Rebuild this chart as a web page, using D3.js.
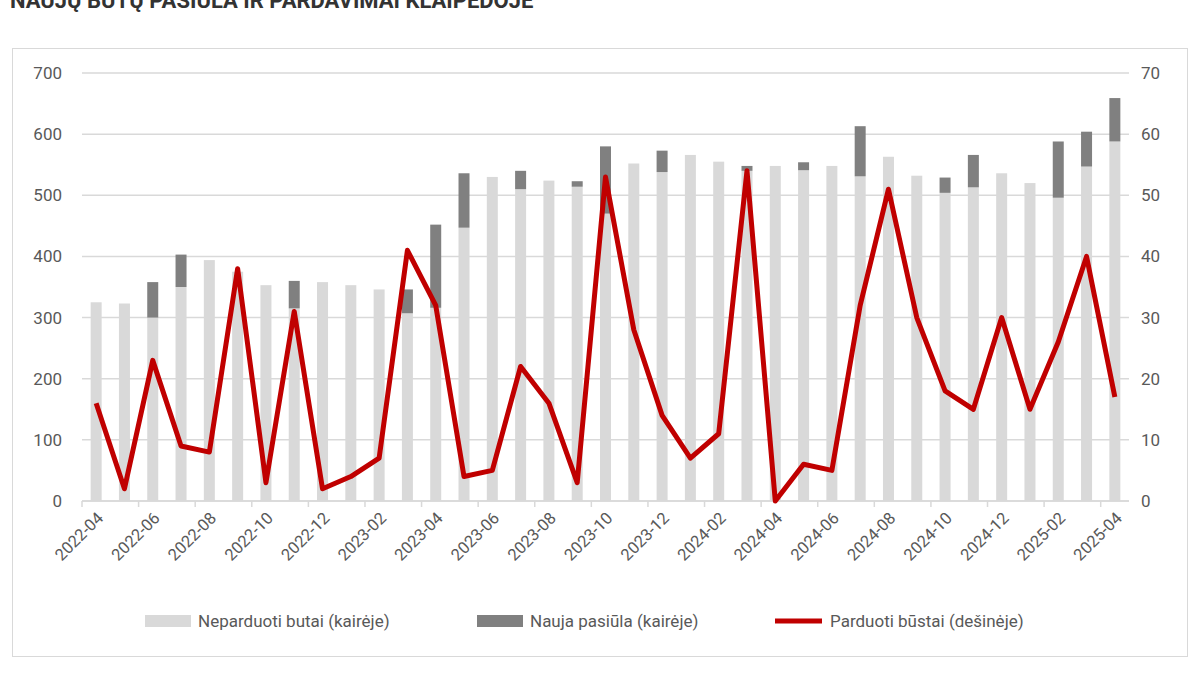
<!DOCTYPE html>
<html>
<head>
<meta charset="utf-8">
<script src="https://cdn.jsdelivr.net/npm/d3@7"></script>
<style>
  body { margin: 0; background: #fff; font-family: Roboto, "DejaVu Sans", sans-serif; }
</style>
</head>
<body>
<div id="chart"></div>
<script>
// data
const months = ["2022-04","2022-05","2022-06","2022-07","2022-08","2022-09","2022-10","2022-11","2022-12",
  "2023-01","2023-02","2023-03","2023-04","2023-05","2023-06","2023-07","2023-08","2023-09","2023-10","2023-11","2023-12",
  "2024-01","2024-02","2024-03","2024-04","2024-05","2024-06","2024-07","2024-08","2024-09","2024-10","2024-11","2024-12",
  "2025-01","2025-02","2025-03","2025-04"];
const unsold = [325,323,300,350,394,375,353,315,358,353,346,307,316,447,530,510,524,514,470,552,538,
  566,555,540,548,541,548,531,563,532,504,513,536,520,496,547,588];
const newSupply = [0,0,58,53,0,0,0,45,0,0,0,39,136,89,0,30,0,9,110,0,35,
  0,0,8,0,13,0,82,0,0,25,53,0,0,92,57,71];
const sold = [16,2,23,9,8,38,3,31,2,4,7,41,32,4,5,22,16,3,53,28,14,
  7,11,54,0,6,5,32,51,30,18,15,30,15,26,40,17];
const leftTicks = [0,100,200,300,400,500,600,700];
const rightTicks = [0,10,20,30,40,50,60,70];

const W = 1200, H = 675;
const margin = {top: 73, right: 71, bottom: 174, left: 82};
const width = W - margin.left - margin.right;
const height = H - margin.top - margin.bottom;

const svg = d3.select("#chart").append("svg").attr("width", W).attr("height", H);

svg.append("text").attr("x", 10).attr("y", 8)
  .style("font-size", "22px").style("font-weight", "bold").style("fill", "#333")
  .text("NAUJŲ BŪTŲ PASIŪLA IR PARDAVIMAI KLAIPĖDOJE");

svg.append("rect").attr("x", 12.5).attr("y", 48.5).attr("width", 1175).attr("height", 608)
  .attr("fill", "none").attr("stroke", "#d9d9d9");

const g = svg.append("g").attr("transform", `translate(${margin.left},${margin.top})`);

const x = d3.scaleBand().domain(months).range([0, width]);
const yL = d3.scaleLinear().domain([0, 700]).range([height, 0]);
const yR = d3.scaleLinear().domain([0, 70]).range([height, 0]);

// gridlines
g.selectAll(".grid").data(leftTicks).join("line")
  .attr("x1", 0).attr("x2", width)
  .attr("y1", d => yL(d)).attr("y2", d => yL(d))
  .attr("stroke", "#d9d9d9").attr("stroke-width", 1.5);

g.selectAll(".ly").data(leftTicks).join("text")
  .attr("x", -20).attr("y", d => yL(d)).attr("dy", "0.35em")
  .attr("text-anchor", "end").style("font-size", "17px").style("fill", "#595959")
  .text(d => d);
g.selectAll(".ry").data(rightTicks).join("text")
  .attr("x", width + 12).attr("y", d => yR(d)).attr("dy", "0.35em")
  .attr("text-anchor", "start").style("font-size", "17px").style("fill", "#595959")
  .text(d => d);

const bw = 11;
const cx = d => x(d) + x.bandwidth() / 2;

g.selectAll(".unsold").data(months).join("rect")
  .attr("x", (d) => cx(d) - bw / 2).attr("width", bw)
  .attr("y", (d, i) => yL(unsold[i]))
  .attr("height", (d, i) => height - yL(unsold[i]))
  .attr("fill", "#d9d9d9");

g.selectAll(".newsup").data(months).join("rect")
  .attr("x", (d) => cx(d) - bw / 2).attr("width", bw)
  .attr("y", (d, i) => yL(unsold[i] + newSupply[i]))
  .attr("height", (d, i) => yL(unsold[i]) - yL(unsold[i] + newSupply[i]))
  .attr("fill", "#808080");

// x axis baseline and ticks every 2 months
g.append("line").attr("x1", 0).attr("x2", width).attr("y1", height).attr("y2", height)
  .attr("stroke", "#d9d9d9").attr("stroke-width", 1.5);
const tickMonths = months.filter((d, i) => i % 2 === 0);
g.selectAll(".xt").data(tickMonths).join("line")
  .attr("x1", d => x(d)).attr("x2", d => x(d))
  .attr("y1", height).attr("y2", height + 6)
  .attr("stroke", "#d9d9d9").attr("stroke-width", 1.5);
g.selectAll(".xl").data(tickMonths).join("text")
  .attr("transform", d => `translate(${cx(d) + 4},${height + 14}) rotate(-45)`)
  .attr("text-anchor", "end").attr("dy", "0.35em")
  .style("font-size", "16.5px").style("fill", "#595959")
  .text(d => d);

// sold line
const line = d3.line().x((d, i) => cx(months[i])).y(d => yR(d));
g.append("path").datum(sold).attr("d", line)
  .attr("fill", "none").attr("stroke", "#c00000").attr("stroke-width", 5)
  .attr("stroke-linejoin", "round");

// legend
const leg = svg.append("g").attr("transform", "translate(0,621)");
leg.append("rect").attr("x", 145).attr("y", -6).attr("width", 46).attr("height", 12).attr("fill", "#d9d9d9");
leg.append("text").attr("x", 198).attr("y", 0).attr("dy", "0.35em").style("font-size", "17px").style("fill", "#595959")
  .text("Neparduoti butai (kairėje)");
leg.append("rect").attr("x", 477).attr("y", -6).attr("width", 46).attr("height", 12).attr("fill", "#808080");
leg.append("text").attr("x", 530).attr("y", 0).attr("dy", "0.35em").style("font-size", "17px").style("fill", "#595959")
  .text("Nauja pasiūla (kairėje)");
leg.append("line").attr("x1", 775).attr("x2", 822).attr("y1", 0).attr("y2", 0)
  .attr("stroke", "#c00000").attr("stroke-width", 5);
leg.append("text").attr("x", 830).attr("y", 0).attr("dy", "0.35em").style("font-size", "17px").style("fill", "#595959")
  .text("Parduoti būstai (dešinėje)");
</script>
</body>
</html>
